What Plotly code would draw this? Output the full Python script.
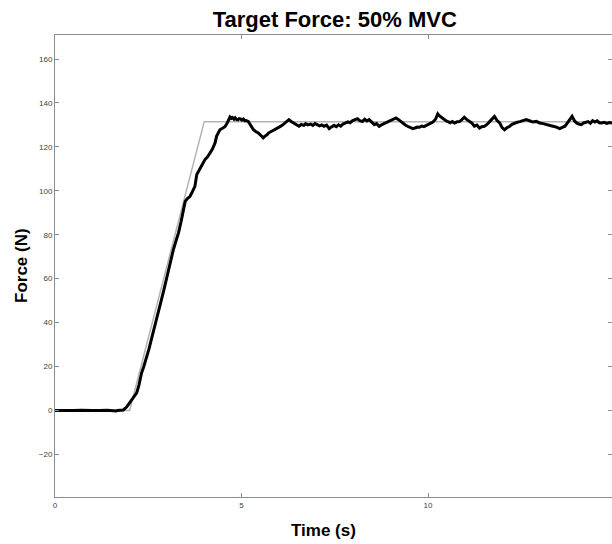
import plotly.graph_objects as go

# Target force profile (N): rest, 2 s ramp, then hold at 50% MVC
target_time = [0.0, 2.0, 4.0, 15.0]
target_force = [0.0, 0.0, 131.5, 131.5]

# Measured force trace (N)
time_s = [
    0.00, 0.15, 0.30, 0.33, 0.50, 0.70, 0.97, 1.00, 1.20, 1.40, 1.64, 1.67, 1.83,
    1.92, 1.97, 2.05, 2.12, 2.19, 2.25, 2.32, 2.38, 2.44, 2.52, 2.60, 2.68, 2.76,
    2.84, 2.92, 3.00, 3.08, 3.17, 3.24, 3.31, 3.38, 3.44, 3.49, 3.55, 3.62, 3.68,
    3.75, 3.80, 3.85, 3.89, 3.95, 4.02, 4.09, 4.16, 4.22, 4.29, 4.33, 4.38, 4.42,
    4.50, 4.56, 4.62, 4.69, 4.73, 4.76, 4.80, 4.83, 4.87, 4.90, 4.94, 4.97, 5.01,
    5.05, 5.09, 5.12, 5.18, 5.25, 5.32, 5.38, 5.45, 5.52, 5.58, 5.62, 5.65, 5.69,
    5.72, 5.78, 5.85, 5.90, 5.96, 6.02, 6.09, 6.14, 6.20, 6.27, 6.33, 6.41, 6.47,
    6.54, 6.60, 6.67, 6.72, 6.78, 6.85, 6.91, 6.97, 7.03, 7.09, 7.15, 7.21, 7.28,
    7.35, 7.41, 7.48, 7.54, 7.60, 7.66, 7.72, 7.79, 7.85, 7.91, 7.97, 8.04, 8.11,
    8.17, 8.24, 8.30, 8.36, 8.42, 8.49, 8.56, 8.62, 8.69, 8.75, 8.81, 8.87, 8.94,
    9.01, 9.07, 9.14, 9.20, 9.27, 9.33, 9.39, 9.45, 9.52, 9.59, 9.65, 9.71, 9.77,
    9.83, 9.89, 9.95, 10.01, 10.07, 10.13, 10.20, 10.26, 10.30, 10.35, 10.41, 10.47,
    10.53, 10.59, 10.65, 10.71, 10.78, 10.84, 10.90, 10.97, 11.04, 11.11, 11.17,
    11.24, 11.31, 11.38, 11.44, 11.51, 11.58, 11.65, 11.71, 11.78, 11.85, 11.92,
    11.98, 12.05, 12.12, 12.19, 12.25, 12.32, 12.39, 12.46, 12.54, 12.63, 12.72,
    12.81, 12.90, 12.99, 13.08, 13.17, 13.26, 13.35, 13.44, 13.53, 13.60, 13.67,
    13.74, 13.80, 13.86, 13.92, 13.98, 14.04, 14.11, 14.17, 14.23, 14.29, 14.35,
    14.41, 14.47, 14.53, 14.59, 14.65, 14.72, 14.79, 14.86, 14.93, 15.00,
]
force_n = [
    0.0, 0.0, -0.3, 0.0, 0.0, 0.1, -0.3, 0.0, 0.0, 0.1, -0.3, 0.0, 0.2,
    1.5, 2.7, 4.5, 6.2, 8.0, 11.5, 17.0, 20.0, 23.0, 28.0, 33.5, 38.5, 44.0,
    49.5, 55.0, 61.0, 66.5, 73.0, 77.0, 80.8, 86.0, 91.4, 95.2, 96.5, 97.5, 99.5,
    102.0, 107.4, 109.0, 110.4, 112.0, 114.2, 115.5, 117.2, 119.0, 121.8, 124.8, 126.5, 127.8,
    128.6, 129.3, 131.0, 133.6, 133.0, 133.4, 132.6, 133.2, 132.4, 132.3, 132.9, 132.8, 132.2,
    132.7, 131.9, 132.0, 131.6, 129.5, 127.8, 127.0, 126.3, 125.2, 124.1, 124.8, 125.0, 125.6,
    126.3, 126.8, 127.6, 127.8, 128.4, 129.1, 129.8, 130.6, 131.4, 132.4, 131.6, 130.9, 130.2,
    129.4, 130.2, 129.8, 130.6, 130.0, 130.4, 129.8, 130.6, 130.1, 129.6, 130.0, 129.4, 129.9,
    128.3, 129.1, 129.8, 129.2, 130.0, 129.4, 130.4, 130.9, 131.4, 131.0, 131.9, 132.4, 132.8,
    131.9, 131.5, 132.6, 131.8, 132.4, 131.2, 130.1, 130.6, 129.4, 130.0, 130.5, 130.9, 131.4,
    131.9, 132.4, 133.2, 132.5, 131.5, 130.6, 130.0, 129.4, 128.8, 128.3, 128.6, 129.0, 128.9,
    129.5, 129.2, 129.8, 130.4, 130.9, 131.3, 132.6, 135.0, 134.2, 133.5, 132.4, 132.0,
    131.5, 131.0, 131.6, 130.9, 131.4, 131.5, 132.3, 133.5, 132.4, 131.5, 130.9,
    129.4, 129.9, 128.6, 129.2, 129.4, 130.2, 131.5, 132.6, 133.9, 132.0, 130.9,
    128.9, 127.8, 128.8, 129.4, 130.3, 130.9, 131.2, 131.5, 132.0, 132.4, 131.9,
    131.3, 131.6, 130.9, 130.6, 130.1, 129.8, 129.4, 129.0, 128.3, 128.9, 129.4,
    131.0, 132.4, 133.9, 132.0, 130.9, 130.4, 130.1, 130.9, 131.2, 131.5, 130.8,
    131.9, 131.3, 131.9, 131.0, 130.9, 131.2, 130.7, 131.1, 130.9, 130.6,
]

x_ticks = [0, 5, 10, 15]
y_ticks = [-20, 0, 20, 40, 60, 80, 100, 120, 140, 160]

FONT = "Liberation Sans, Arial, sans-serif"

fig = go.Figure()
fig.add_trace(go.Scatter(
    x=target_time, y=target_force, mode="lines",
    line=dict(color="#b3b3b3", width=1.5), hoverinfo="skip", showlegend=False,
))
fig.add_trace(go.Scatter(
    x=time_s, y=force_n, mode="lines",
    line=dict(color="#000000", width=3), showlegend=False,
))

axis_common = dict(
    showgrid=False, zeroline=False, showline=True, linecolor="#8c8c8c", linewidth=1,
    ticks="inside", ticklen=4, tickcolor="#8c8c8c", mirror="ticks",
    tickfont=dict(family=FONT, size=8, color="#404040"),
)

fig.update_layout(
    width=612, height=544,
    margin=dict(l=55, r=0, t=35, b=47),
    paper_bgcolor="white", plot_bgcolor="white",
    title=dict(
        text="<b>Target Force: 50% MVC</b>", x=0.547, xanchor="center",
        y=1 - 19 / 544, yanchor="middle",
        font=dict(family=FONT, size=22, color="#000000"),
    ),
    xaxis=dict(range=[0, 14.93], tickvals=x_ticks, **axis_common),
    yaxis=dict(range=[-39.45, 170.95], tickvals=y_ticks, **axis_common),
    annotations=[
        dict(
            text="<b>Time (s)</b>", xref="paper", yref="paper",
            x=(323 - 55) / 557, y=-(530 - 497) / 462, xanchor="center", yanchor="middle",
            showarrow=False,
            font=dict(family=FONT, size=17, color="#000000"),
        ),
        dict(
            text="<b>Force (N)</b>", xref="paper", yref="paper",
            x=-(55 - 21) / 557, y=0.5, xanchor="center", yanchor="middle", textangle=-90,
            showarrow=False,
            font=dict(family=FONT, size=17, color="#000000"),
        ),
    ],
)

fig.write_html("out.html")
